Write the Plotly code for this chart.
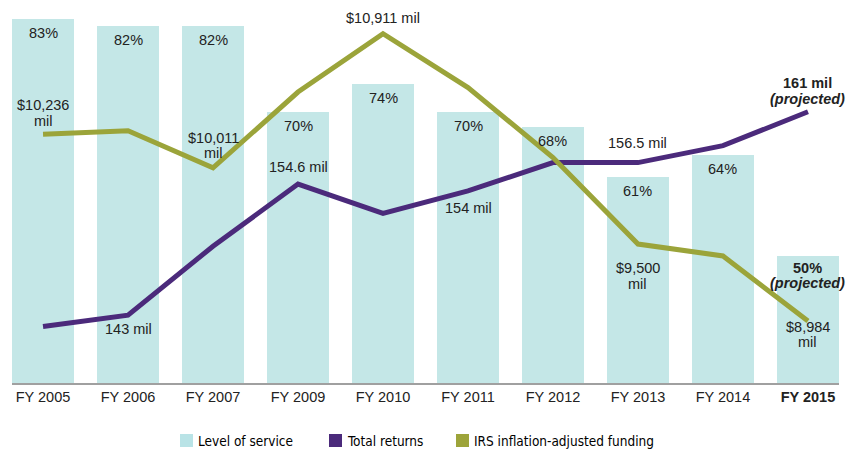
import plotly.graph_objects as go

# ---------------- data ----------------
years = ["FY 2005", "FY 2006", "FY 2007", "FY 2009", "FY 2010",
         "FY 2011", "FY 2012", "FY 2013", "FY 2014", "FY 2015"]
service_pct = [83, 82, 82, 70, 74, 70, 68, 61, 64, 50]
total_returns = [142.0, 143, 149.1, 154.6, 152.0, 154, 156.5, 156.5, 158.0, 161]
funding = [10236, 10260, 10011, 10520, 10911, 10550, 10080, 9500, 9420, 8984]

service_labels = ["83%", "82%", "82%", "70%", "74%", "70%", "68%", "61%", "64%",
                  "<b>50%</b>|<b><i>(projected)</i></b>"]
# (index, text lines separated by |, pixel offset of first line centre below the point)
returns_labels = [
    (1, "143 mil", 13.5),
    (3, "154.6 mil", -17),
    (5, "154 mil", 17),
    (7, "156.5 mil", -19.5),
    (9, "<b>161 mil</b>|<b><i>(projected)</i></b>", -28.5),
]
funding_labels = [
    (0, "$10,236|mil", -29),
    (2, "$10,011|mil", -30),
    (4, "$10,911 mil", -15.5),
    (7, "$9,500|mil", 24),
    (9, "$8,984|mil", 6),
]
legend_names = ["Level of service", "Total returns", "IRS inflation-adjusted funding"]

# ---------------- style ----------------
C_BAR = "#c4e7e7"
C_PURPLE = "#4b2a7b"
C_OLIVE = "#9ba43a"
LEG_COLORS = ["#b9e3e6", "#4b2a7b", "#9da43a"]
FONT = "Liberation Sans, Arial, sans-serif"
NARROW = "DejaVu Sans Condensed, Liberation Sans Narrow, sans-serif"
TXT = "#222222"
LINE_H = 15.5

x = list(range(len(years)))

fig = go.Figure()
fig.add_trace(go.Bar(x=x, y=service_pct, base=0, width=0.73, marker_color=C_BAR,
                     marker_line_width=0, yaxis="y", showlegend=False,
                     name=legend_names[0]))
fig.add_trace(go.Scatter(x=x, y=total_returns, mode="lines", yaxis="y2",
                         line=dict(color=C_PURPLE, width=5), showlegend=False,
                         name=legend_names[1]))
fig.add_trace(go.Scatter(x=x, y=funding, mode="lines", yaxis="y3",
                         line=dict(color=C_OLIVE, width=5), showlegend=False,
                         name=legend_names[2]))

ann = []


def add_label(xi, yv, yref, text, dy):
    for k, line in enumerate(text.split("|")):
        ann.append(dict(x=xi, y=yv, xref="x", yref=yref, text=line,
                        showarrow=False, yanchor="middle",
                        yshift=-(dy + k * LINE_H),
                        font=dict(family=FONT, size=14.5, color=TXT)))


for i, (v, t) in enumerate(zip(service_pct, service_labels)):
    add_label(i, v, "y", t, 12 if "|" in t else 14)
for i, t, dy in returns_labels:
    add_label(i, total_returns[i], "y2", t, dy)
for i, t, dy in funding_labels:
    add_label(i, funding[i], "y3", t, dy)

# manual legend (pixel -> paper conversion)
PL, PR, PT, PB = 12, 839, 10, 383


def px(xp):
    return (xp - PL) / (PR - PL)


def py(yp):
    return (PB - yp) / (PB - PT)


shapes = []
sq_x = [180, 329, 456]
for sx, name, col in zip(sq_x, legend_names, LEG_COLORS):
    shapes.append(dict(type="rect", xref="paper", yref="paper",
                       x0=px(sx), x1=px(sx + 13), y0=py(447), y1=py(434),
                       fillcolor=col, line=dict(width=0)))
    ann.append(dict(x=px(sx + 16), y=py(440.5), xref="paper", yref="paper",
                    text=name, showarrow=False, xanchor="left", yanchor="middle",
                    font=dict(family=NARROW, size=13.5, color="#000000")))

ticktext = years[:-1] + ["<b>" + years[-1] + "</b>"]

fig.update_layout(
    width=846, height=452,
    margin=dict(l=PL, r=846 - PR, t=PT, b=452 - PB),
    plot_bgcolor="white", paper_bgcolor="white",
    bargap=0,
    xaxis=dict(range=[-0.365, 9.365], tickvals=x, ticktext=ticktext,
               showgrid=False, zeroline=False, showline=True,
               linecolor="#a0a0a0", linewidth=1.5, ticks="",
               tickfont=dict(family=FONT, size=14.5, color=TXT)),
    yaxis=dict(range=[32.3, 84.25], visible=False, showgrid=False),
    yaxis2=dict(range=[137.0, 170.0], overlaying="y", visible=False, showgrid=False),
    yaxis3=dict(range=[8567.8, 11070.3], overlaying="y", visible=False, showgrid=False),
    annotations=ann,
    shapes=shapes,
    showlegend=False,
)

fig.write_html("out.html", config={"displayModeBar": False},
               post_script="document.body.style.margin='0px';document.body.style.overflow='hidden';")
